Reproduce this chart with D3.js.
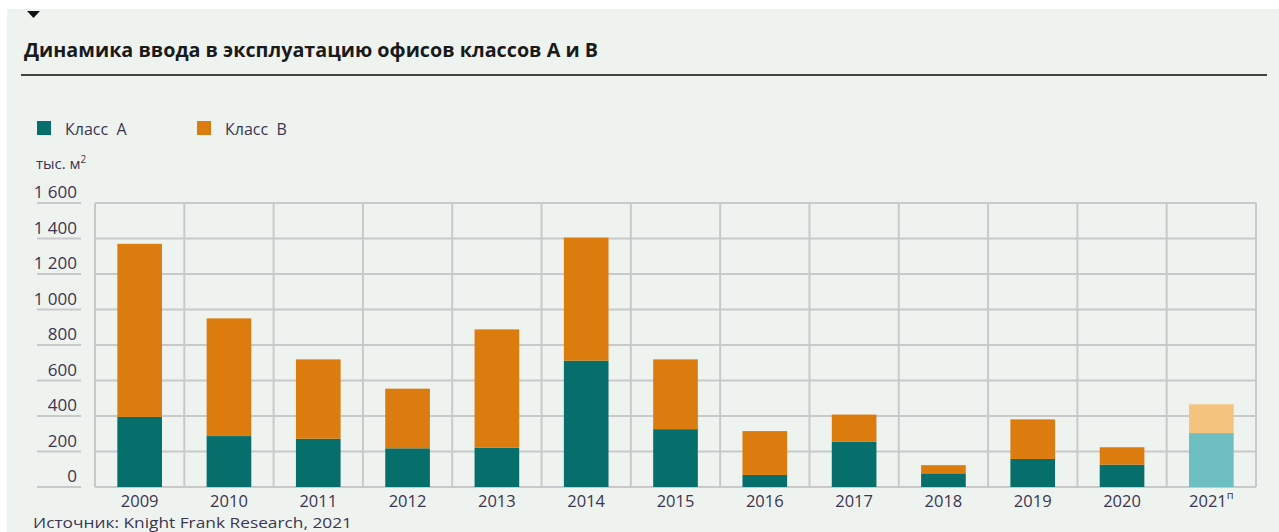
<!DOCTYPE html>
<html lang="ru">
<head>
<meta charset="utf-8">
<title>Динамика ввода в эксплуатацию офисов классов А и В</title>
<style>
  html,body { margin:0; padding:0; background:#fff; }
  svg { display:block; }
  text { font-family: "Open Sans", "Noto Sans", sans-serif; }
</style>
<script src="https://d3js.org/d3.v7.min.js"></script>
</head>
<body>
<svg width="1279" height="532"></svg>
<script>
// values in thousand sq. m
const years  = ["2009","2010","2011","2012","2013","2014","2015","2016","2017","2018","2019","2020","2021"];
const classA = [395, 287, 272, 218, 222, 712, 326, 68, 256, 77, 158, 126, 304];
const classB = [975, 663, 447, 336, 666, 693, 393, 247, 152, 46, 223, 98, 162];
const yTicks = [0, 200, 400, 600, 800, 1000, 1200, 1400, 1600];
const isForecast = d => d === "2021";

const colA = "#076f6b", colB = "#dd7c0e";
const colAf = "#6dbfc1", colBf = "#f4c47f";
const textCol = "#3b3550";

const svg = d3.select("svg");

// panel
svg.append("rect").attr("x", 7).attr("y", 9).attr("width", 1272).attr("height", 523).attr("fill", "#eff3f0");
svg.append("path").attr("d", "M27,11 L40,11 L33.5,18 Z").attr("fill", "#111");

svg.append("text").attr("x", 24).attr("y", 57)
  .attr("font-size", 19.5).attr("font-weight", 700).attr("fill", "#1a1a1a")
  .attr("textLength", 574).attr("lengthAdjust", "spacingAndGlyphs")
  .text("Динамика ввода в эксплуатацию офисов классов А и В");
svg.append("line").attr("x1", 21).attr("x2", 1267).attr("y1", 75).attr("y2", 75)
  .attr("stroke", "#444").attr("stroke-width", 2);

// legend
const legend = [["Класс  А", colA, 37], ["Класс  В", colB, 197]];
legend.forEach(([label, c, x]) => {
  svg.append("rect").attr("x", x).attr("y", 121).attr("width", 14).attr("height", 14).attr("fill", c);
  svg.append("text").attr("x", x + 28).attr("y", 135).attr("font-size", 16).attr("fill", textCol)
    .style("white-space", "pre").text(label);
});

const unit = svg.append("text").attr("x", 36).attr("y", 169).attr("font-size", 15).attr("fill", textCol);
unit.append("tspan").text("тыс. м");
unit.append("tspan").attr("font-size", 10).attr("dy", -6).text("2");

// scales
const x = d3.scaleBand().domain(years).range([95, 1256]).paddingInner(0).paddingOuter(0);
const y = d3.scaleLinear().domain([0, 1600]).range([487, 203]);
const barW = x.bandwidth() * 0.5;

const grid = svg.append("g").attr("stroke", "#c9c9cb").attr("stroke-width", 2);
grid.selectAll("line.h").data(yTicks).join("line").attr("class", "h")
  .attr("x1", 95).attr("x2", 1256).attr("y1", d => y(d)).attr("y2", d => y(d));
grid.selectAll("line.v").data(years.concat(["end"])).join("line").attr("class", "v")
  .attr("x1", (d, i) => 95 + i * x.step()).attr("x2", (d, i) => 95 + i * x.step())
  .attr("y1", y(1600)).attr("y2", y(0));

// y axis labels with short rules under them
const yg = svg.append("g");
yg.selectAll("line").data(yTicks).join("line")
  .attr("x1", 37).attr("x2", 81).attr("y1", d => y(d)).attr("y2", d => y(d))
  .attr("stroke", "#c9c9cb").attr("stroke-width", 2);
yg.selectAll("text").data(yTicks).join("text")
  .attr("x", 77).attr("y", d => y(d) - 5).attr("text-anchor", "end")
  .attr("font-size", 17).attr("fill", textCol)
  .text(d => d >= 1000 ? d3.format(",")(d).replace(",", " ") : d);

// bars
const rows = years.map((yr, i) => ({ yr, a: classA[i], b: classB[i] }));
const bars = svg.append("g").selectAll("g").data(rows).join("g");
bars.append("rect")
  .attr("x", d => x(d.yr) + (x.bandwidth() - barW) / 2).attr("width", barW)
  .attr("y", d => y(d.a)).attr("height", d => y(0) - y(d.a))
  .attr("fill", d => isForecast(d.yr) ? colAf : colA);
bars.append("rect")
  .attr("x", d => x(d.yr) + (x.bandwidth() - barW) / 2).attr("width", barW)
  .attr("y", d => y(d.a + d.b)).attr("height", d => y(d.a) - y(d.a + d.b))
  .attr("fill", d => isForecast(d.yr) ? colBf : colB);

// x labels
const xl = svg.append("g").selectAll("text").data(years).join("text")
  .attr("x", d => x(d) + x.bandwidth() / 2).attr("y", 507)
  .attr("text-anchor", "middle").attr("font-size", 16.5).attr("fill", textCol);
xl.append("tspan").text(d => d);
xl.filter(isForecast).append("tspan").attr("font-size", 11).attr("dy", -8).text("п");

svg.append("text").attr("x", 33).attr("y", 528).attr("font-size", 15).attr("fill", textCol)
  .attr("textLength", 319).attr("lengthAdjust", "spacingAndGlyphs")
  .text("Источник: Knight Frank Research, 2021");
</script>
</body>
</html>
